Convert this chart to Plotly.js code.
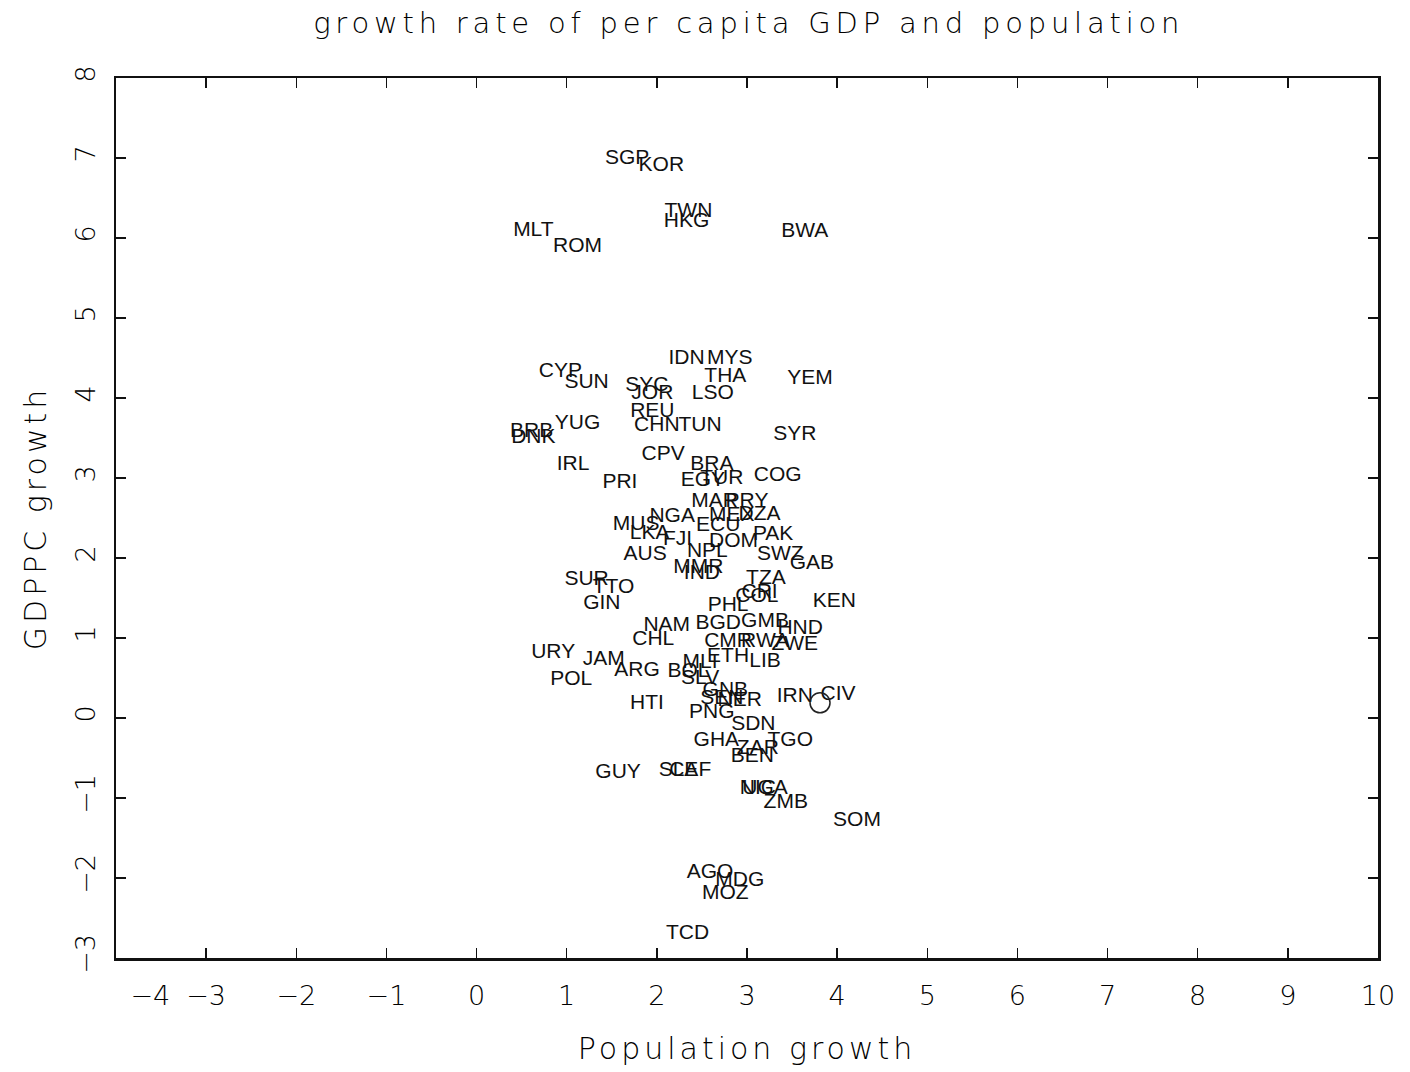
<!DOCTYPE html>
<html>
<head>
<meta charset="utf-8">
<script src="https://cdn.plot.ly/plotly-3.0.1.min.js"></script>
<style>
html,body{margin:0;padding:0;background:#fff;}
#chart{width:1410px;height:1072px;}
.gtitle{letter-spacing:4.8px;}
.xtitle,.ytitle{letter-spacing:4px;}
</style>
</head>
<body>
<div id="chart"></div>
<script>
// Country codes and their (population growth, GDP per capita growth) values
const countries = ["SGP","KOR","TWN","HKG","MLT","ROM","BWA","IDN","MYS","CYP","THA","YEM","SUN","SYC","JOR","LSO","REU","CHN","TUN","BRB","DNK","YUG","SYR","IRL","CPV","BRA","PRI","EGY","TUR","COG","MAR","PRY","NGA","MEX","DZA","MUS","LKA","ECU","FJI","DOM","PAK","NPL","AUS","SWZ","GAB","MMR","IND","TZA","SUR","TTO","GIN","CRI","COL","PHL","KEN","NAM","BGD","GMB","HND","CHL","CMR","RWA","ZWE","ETH","LIB","URY","JAM","ARG","POL","BOL","MLI","SLV","GNB","SEN","NER","HTI","PNG","IRN","CIV","SDN","GHA","ZAR","TGO","BEN","GUY","SLE","CAF","NIC","UGA","ZMB","SOM","AGO","MDG","MOZ","TCD"];
const popGrowth = [1.67,2.05,2.35,2.33,0.63,1.12,3.64,2.33,2.81,0.93,2.76,3.70,1.22,1.89,1.95,2.62,1.95,2.00,2.48,0.61,0.63,1.12,3.53,1.07,2.07,2.61,1.59,2.51,2.72,3.34,2.64,3.00,2.17,2.83,3.14,1.77,1.92,2.68,2.23,2.85,3.29,2.56,1.87,3.37,3.72,2.46,2.50,3.21,1.22,1.52,1.39,3.14,3.11,2.79,3.97,2.11,2.68,3.20,3.59,1.96,2.79,3.20,3.53,2.79,3.20,0.85,1.41,1.78,1.05,2.35,2.48,2.48,2.76,2.72,2.92,1.89,2.61,3.53,4.01,3.07,2.66,3.12,3.48,3.06,1.57,2.24,2.37,3.12,3.20,3.43,4.22,2.59,2.92,2.76,2.34];
const gdpGrowth = [6.99,6.90,6.33,6.20,6.09,5.89,6.08,4.49,4.49,4.33,4.26,4.24,4.19,4.15,4.05,4.05,3.83,3.65,3.65,3.58,3.50,3.68,3.54,3.16,3.29,3.16,2.94,2.96,2.99,3.03,2.70,2.70,2.51,2.53,2.54,2.41,2.30,2.40,2.23,2.20,2.29,2.08,2.04,2.04,1.93,1.88,1.80,1.74,1.73,1.63,1.43,1.56,1.52,1.40,1.45,1.15,1.18,1.20,1.11,0.98,0.95,0.95,0.91,0.76,0.70,0.81,0.73,0.59,0.48,0.58,0.69,0.49,0.34,0.24,0.21,0.18,0.06,0.26,0.29,-0.09,-0.29,-0.38,-0.28,-0.49,-0.69,-0.66,-0.66,-0.89,-0.89,-1.06,-1.29,-1.93,-2.03,-2.20,-2.70];
// Single circled point
const circleX = [3.81];
const circleY = [0.19];

const xTicks = [-4,-3,-2,-1,0,1,2,3,4,5,6,7,8,9,10];
const xTickText = ["\u2007\u2007\u2007\u2007\u22124","\u22123","\u22122","\u22121","0","1","2","3","4","5","6","7","8","9","10"];
const yTicks = [-3,-2,-1,0,1,2,3,4,5,6,7,8];
const yTickText = ["\u22123","\u22122","\u22121","0","1","2","3","4","5","6","7","8"];

const thinFont = {family: "DejaVu Sans, sans-serif", weight: 200, color: "#000"};

const traces = [
  {
    type: "scatter", mode: "text",
    x: popGrowth, y: gdpGrowth, text: countries,
    textposition: "middle center",
    textfont: {family: "Liberation Sans, Arial, sans-serif", size: 21, color: "#111"},
    hoverinfo: "text", showlegend: false
  },
  {
    type: "scatter", mode: "markers",
    x: circleX, y: circleY,
    marker: {symbol: "circle-open", size: 20, color: "#222", line: {width: 1.5}},
    showlegend: false, hoverinfo: "skip"
  }
];

const layout = {
  width: 1410, height: 1072,
  paper_bgcolor: "#fff", plot_bgcolor: "#fff",
  margin: {l: 116, r: 32, t: 78, b: 114},
  showlegend: false,
  title: {
    text: "growth rate of per capita GDP and population",
    font: Object.assign({}, thinFont, {size: 29}),
    x: 0.531, xanchor: "center", xref: "container",
    y: 0.979, yanchor: "middle", yref: "container"
  },
  xaxis: {
    range: [-4, 10], tickmode: "array", tickvals: xTicks, ticktext: xTickText,
    showgrid: false, zeroline: false,
    showline: true, linecolor: "#111", linewidth: 2.5, mirror: "ticks",
    ticks: "inside", ticklen: 10, tickwidth: 1.5, tickcolor: "#111",
    tickfont: Object.assign({}, thinFont, {size: 27}),
    ticklabelstandoff: 12,
    title: {text: "Population growth", font: Object.assign({}, thinFont, {size: 30}), standoff: 28},
    automargin: false
  },
  yaxis: {
    range: [-3, 8], tickmode: "array", tickvals: yTicks, ticktext: yTickText,
    showgrid: false, zeroline: false,
    showline: true, linecolor: "#111", linewidth: 2.5, mirror: "ticks",
    ticks: "inside", ticklen: 10, tickwidth: 1.5, tickcolor: "#111",
    tickangle: -90,
    tickfont: Object.assign({}, thinFont, {size: 27}),
    ticklabelstandoff: 8,
    title: {text: "GDPPC growth", font: Object.assign({}, thinFont, {size: 30}), standoff: 14},
    automargin: false
  }
};

Plotly.newPlot("chart", traces, layout, {displayModeBar: false, staticPlot: true});
</script>
</body>
</html>
